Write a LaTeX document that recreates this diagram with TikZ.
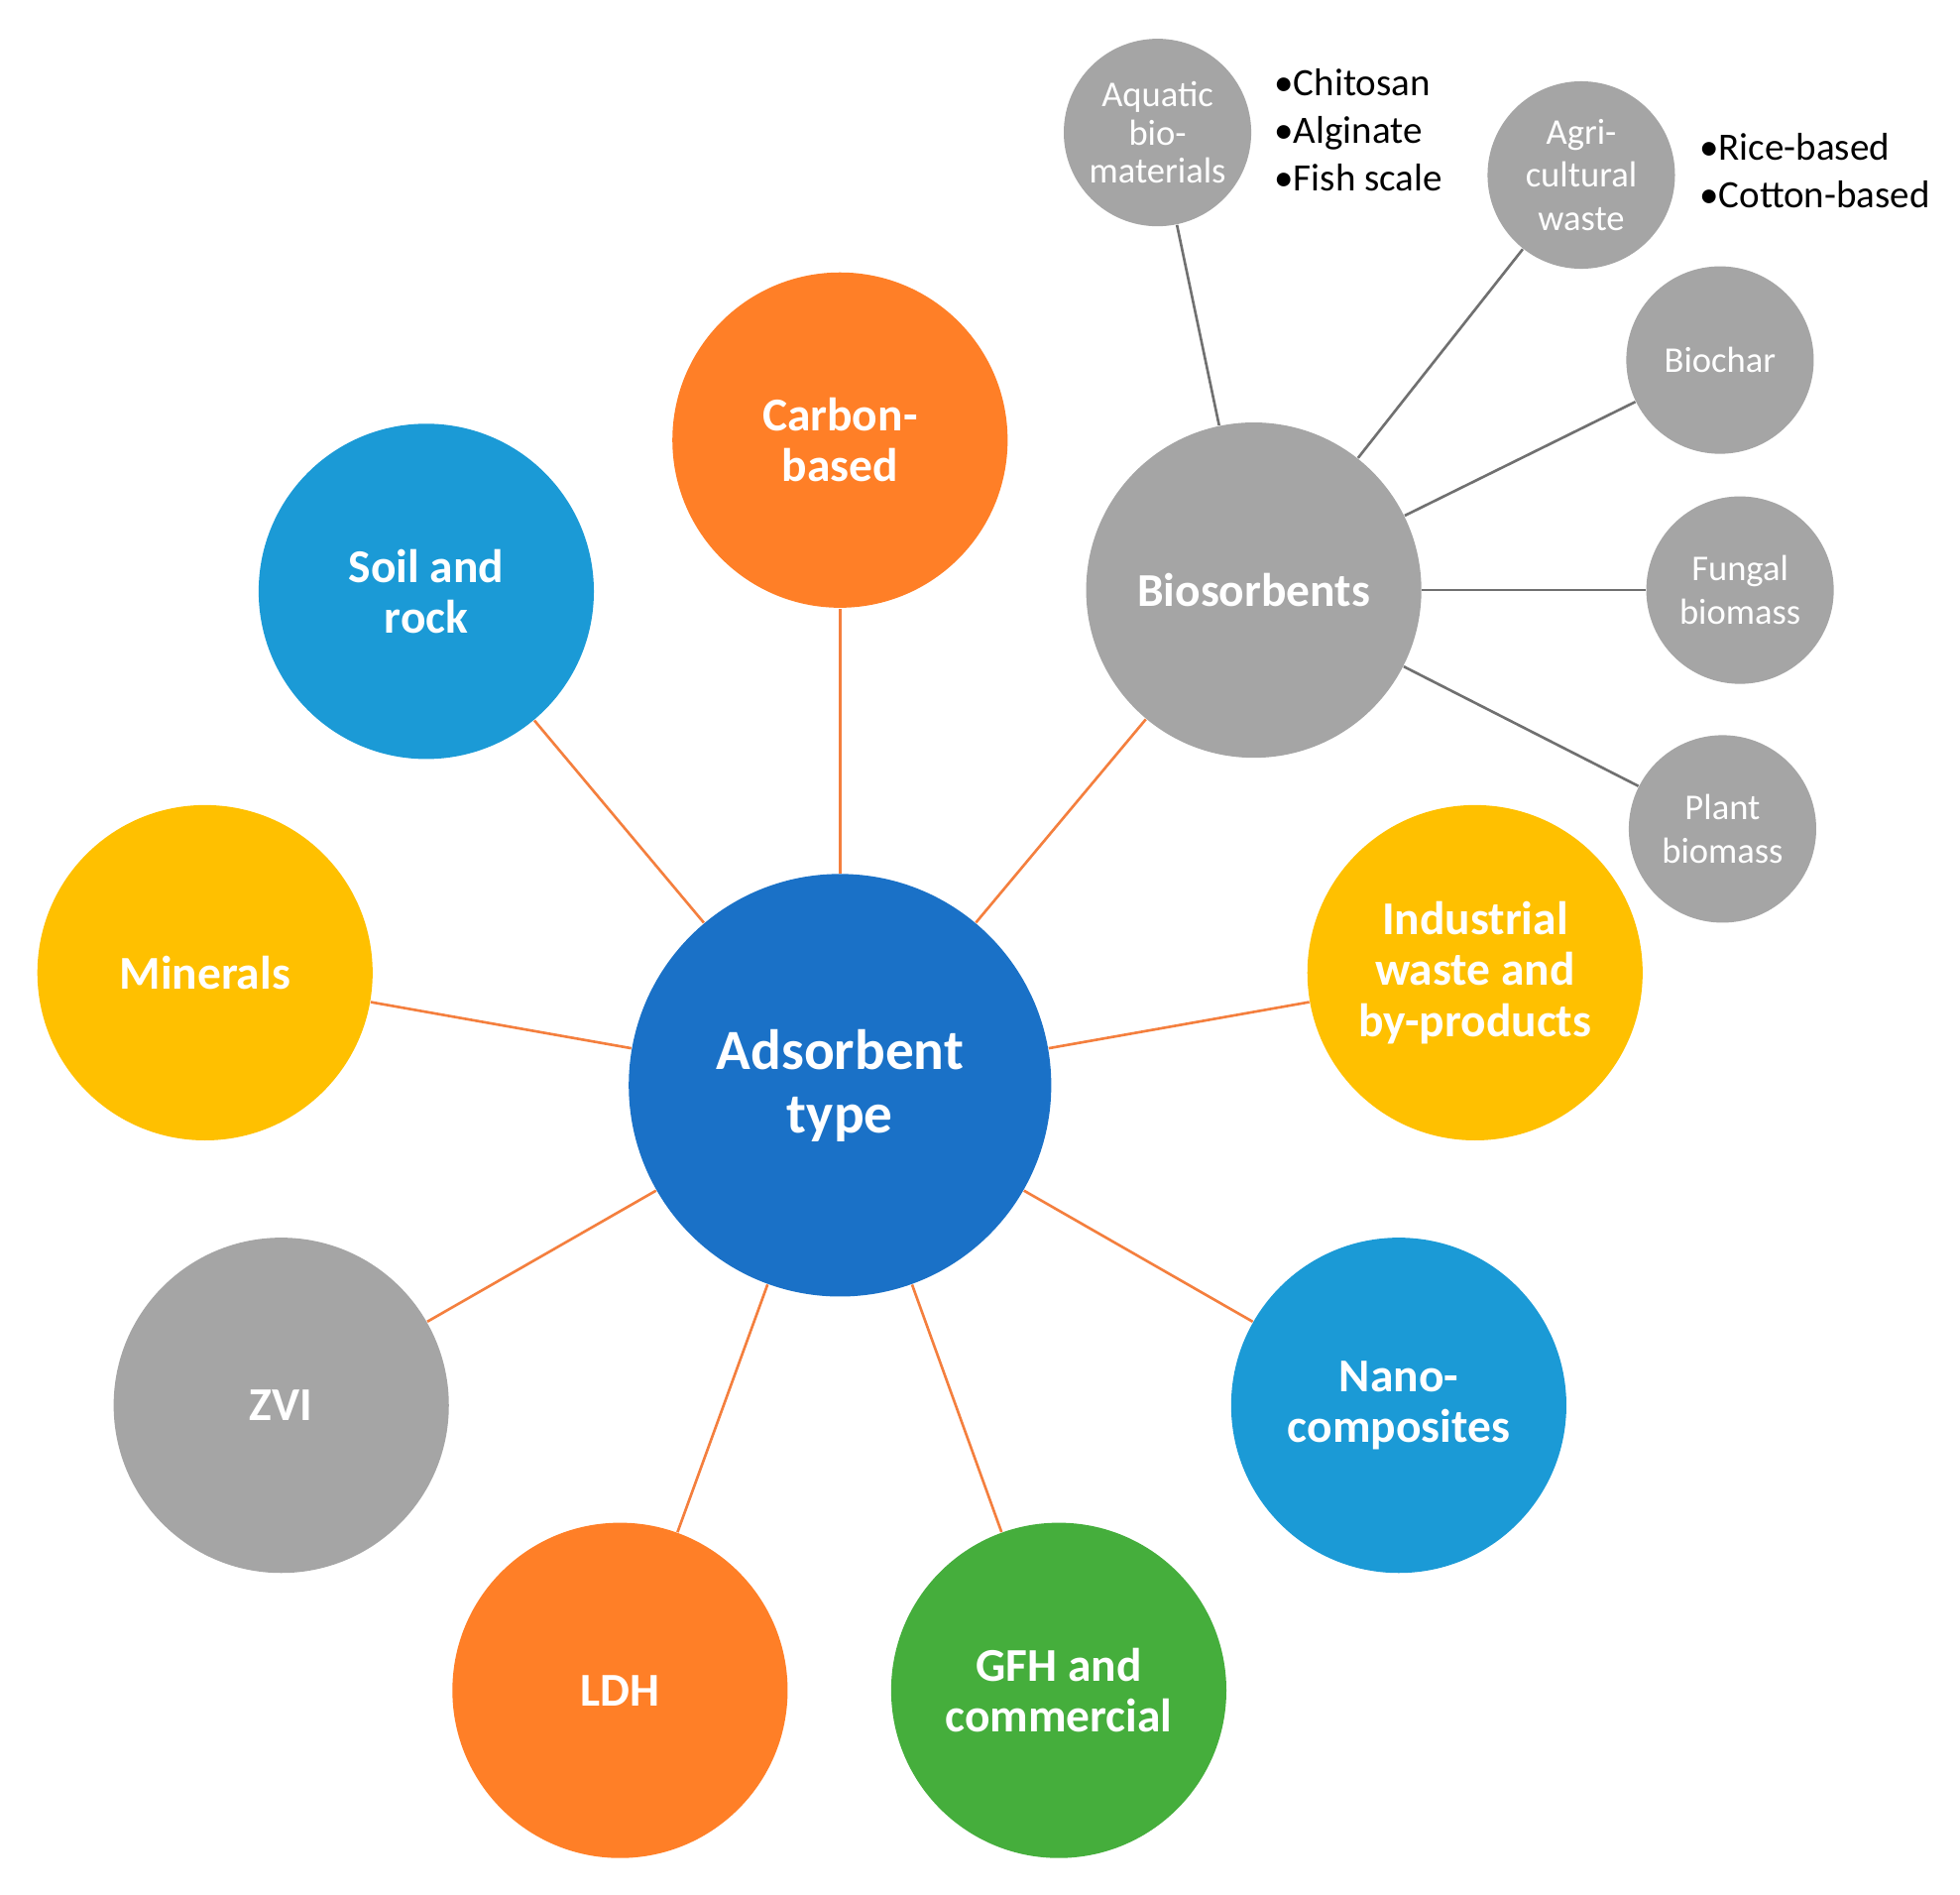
\documentclass[tikz,border=0pt]{standalone}
\usepackage{fontspec}
\setmainfont{Carlito}
\definecolor{adsblue}{HTML}{1A71C7}
\definecolor{skyblue}{HTML}{1B9AD6}
\definecolor{orng}{HTML}{FF7F27}
\definecolor{gold}{HTML}{FFC000}
\definecolor{grn}{HTML}{45AE3C}
\definecolor{gry}{HTML}{A5A5A5}
\definecolor{linkorange}{HTML}{F47F3E}
\definecolor{linkgrey}{HTML}{707070}

\begin{document}
\begin{tikzpicture}[
			x=0.01261cm,y=-0.01261cm,
			bubble/.style={
				circle,
				inner sep=0pt,
				minimum size=3.38cm,
				align=center,
				text=white,
				font=\fontsize{13.5}{14.6}\selectfont\bfseries,
			},
			hub/.style={
				bubble,
				minimum size=4.26cm,
				fill=adsblue,
				font=\fontsize{16.3}{18.2}\selectfont\bfseries,
			},
			leaf/.style={
				circle,
				inner sep=0pt,
				minimum size=1.89cm,
				align=center,
				fill=gry,
				text=white,
				font=\fontsize{10.4}{10.9}\selectfont,
			},
			note/.style={
				inner sep=0pt,
				align=left,
				anchor=base west,
				font=\fontsize{11.1}{13.7}\selectfont,
			},
			every edge/.style={
				draw,
				line width=0.75pt,
			}]
		\useasboundingbox (0,0) rectangle (1568,1515);
		% main ring
		\node[hub](adsorbent) at (672,868) {Adsorbent\\type};
		\node[bubble,fill=orng](carbon) at (672,352) {Carbon-\\based};
		\node[bubble,fill=skyblue](soil) at (341,473) {Soil and\\rock};
		\node[bubble,fill=gold](minerals) at (164,778) {Minerals};
		\node[bubble,fill=gry](zvi) at (225,1124) {ZVI};
		\node[bubble,fill=orng](ldh) at (496,1352) {LDH};
		\node[bubble,fill=grn](gfh) at (847,1352) {GFH and\\commercial};
		\node[bubble,fill=skyblue](nano) at (1119,1124) {Nano-\\composites};
		\node[bubble,fill=gold](industrial) at (1180,778) {Industrial\\waste and\\by-products};
		\node[bubble,fill=gry](bio) at (1003,472) {Biosorbents};
		% biosorbent branches
		\node[leaf](aquatic) at (926,106) {Aquatic\\bio-\\materials};
		\node[leaf,font=\fontsize{10.4}{12.4}\selectfont](agri) at (1265,140) {Agri-\\cultural\\waste};
		\node[leaf](biochar) at (1376,288) {Biochar};
		\node[leaf,font=\fontsize{10.4}{12.4}\selectfont](fungal) at (1392,472) {Fungal\\biomass};
		\node[leaf,font=\fontsize{10.4}{12.4}\selectfont](plant) at (1378,663) {Plant\\biomass};
		\node[note](aquaticlist) at (1019,153) {•Chitosan\\•Alginate\\•Fish scale};
		\node[note](agrilist) at (1359,166) {•Rice-based\\•Cotton-based};
		\foreach \n in {carbon,soil,minerals,zvi,ldh,gfh,nano,industrial,bio}
			\path (adsorbent) edge[linkorange] (\n);
		\foreach \n in {aquatic,agri,biochar,fungal,plant}
			\path (bio) edge[linkgrey] (\n);
	\end{tikzpicture}
\end{document}
